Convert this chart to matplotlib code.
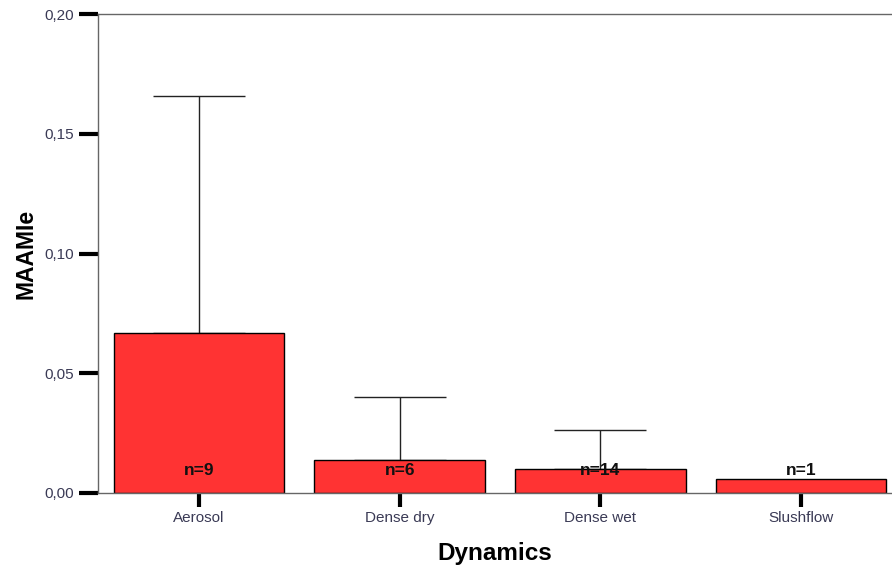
import matplotlib
matplotlib.use("Agg")
import matplotlib.pyplot as plt
import numpy as np

categories = ["Aerosol", "Dense dry", "Dense wet", "Slushflow"]
means = [0.0668, 0.0138, 0.0100, 0.0058]
upper_err = [0.0990, 0.0263, 0.0163, 0.0]
n_labels = ["n=9", "n=6", "n=14", "n=1"]
yticks = [0.00, 0.05, 0.10, 0.15, 0.20]
ytick_labels = ["0,00", "0,05", "0,10", "0,15", "0,20"]

plt.rcParams['font.family'] = ['Liberation Sans', 'DejaVu Sans']

fig = plt.figure(figsize=(8.92, 5.72), dpi=100)
ax = fig.add_axes([98/892, 79/572, 1 - 98/892, (493-14)/572])

x = np.arange(len(categories))
ax.bar(x, means, width=0.85, color="#ff3333", edgecolor="black", linewidth=1.0, zorder=2)

has_err = [e > 0 for e in upper_err]
xe = x[has_err]
me = np.array(means)[has_err]
ee = np.array(upper_err)[has_err]
ax.errorbar(xe, me, yerr=[np.zeros_like(ee), ee], fmt="none", ecolor="#222222",
            elinewidth=1.0, capsize=33, capthick=1.0, zorder=1)

for xi, lab in zip(x, n_labels):
    ax.text(xi, 0.0096, lab, ha="center", va="center", fontsize=12.5,
            fontweight="bold", color="#111111", zorder=3)

ax.set_xlim(-0.503, 3.453)
ax.set_ylim(0, 0.20)
ax.set_yticks(yticks)
ax.set_yticklabels(ytick_labels)
ax.set_xticks(x)
ax.set_xticklabels(categories)

for s in ["right"]:
    ax.spines[s].set_visible(False)
for s in ["left", "bottom", "top"]:
    ax.spines[s].set_color("#666666")
    ax.spines[s].set_linewidth(1.0)

ax.tick_params(axis="y", direction="out", length=14, width=3, color="black",
               labelsize=11, labelcolor="#3a3a55", pad=3)
ax.tick_params(axis="x", direction="out", length=10, width=3, color="black",
               labelsize=11, labelcolor="#3a3a55", pad=3)

ax.set_ylabel("MAAMIe", fontsize=16.5, fontweight="bold", labelpad=5)
ax.set_xlabel("Dynamics", fontsize=17.5, fontweight="bold", labelpad=12)

fig.savefig("out.png", dpi=100)
